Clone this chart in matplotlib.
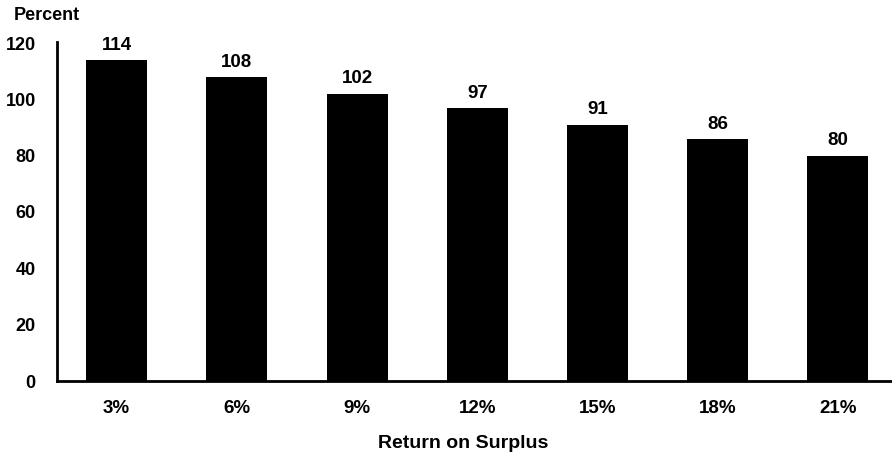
import matplotlib
matplotlib.use("Agg")
import matplotlib.pyplot as plt

categories = ["3%", "6%", "9%", "12%", "15%", "18%", "21%"]
values = [114, 108, 102, 97, 91, 86, 80]
y_ticks = [0, 20, 40, 60, 80, 100, 120]

plt.rcParams["font.family"] = ["Liberation Sans", "DejaVu Sans"]
plt.rcParams["font.weight"] = "bold"

W, H = 892, 455
fig = plt.figure(figsize=(W / 100, H / 100), dpi=100)
ax = fig.add_axes([56.5 / W, 1 - 381 / H, (892 - 56.5) / W, (381 - 43) / H])

x = range(len(categories))
bars = ax.bar(x, values, width=0.507, color="black")
for xi, v in zip(x, values):
    ax.annotate(str(v), (xi, v), xytext=(0, 4.5), textcoords="offset points",
                ha="center", va="bottom", fontsize=13.5, fontweight="bold")

ax.set_xlim(-0.5, 6.45)
ax.set_ylim(0, 120)
ax.set_yticks(y_ticks)
ax.set_xticks(list(x))
ax.set_xticklabels(categories)
ax.tick_params(axis="y", length=0, labelsize=13, pad=15)
ax.tick_params(axis="x", length=0, labelsize=13.5, pad=14)
for lbl in ax.get_xticklabels() + ax.get_yticklabels():
    lbl.set_fontweight("bold")

for s in ("top", "right"):
    ax.spines[s].set_visible(False)
for s in ("left", "bottom"):
    ax.spines[s].set_linewidth(2)
    ax.spines[s].set_color("black")
ax.spines["left"].set_bounds(0, 120.5)

fig.text(14 / W, 1 - 15 / H, "Percent", ha="left", va="center",
         fontsize=13, fontweight="bold")
fig.text(463 / W, 1 - 443 / H, "Return on Surplus", ha="center", va="center",
         fontsize=14, fontweight="bold")

fig.savefig("out.png", dpi=100)
